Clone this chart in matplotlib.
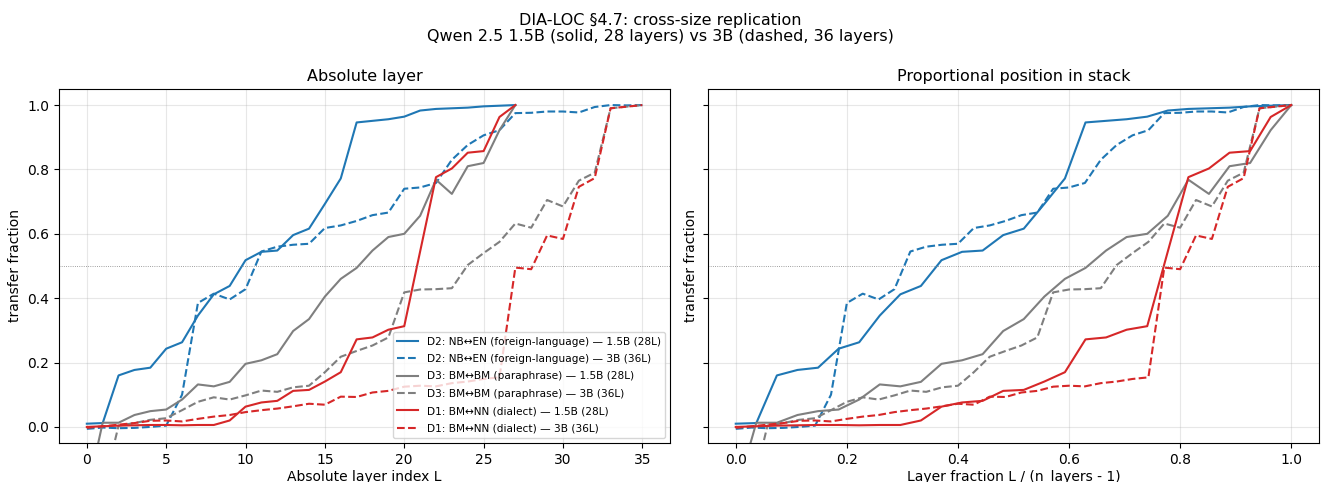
import matplotlib
matplotlib.use("Agg")
import matplotlib.pyplot as plt
import numpy as np

# Data: transfer fraction per layer
d2_15 = [0.01, 0.012, 0.16, 0.177, 0.184, 0.243, 0.263, 0.346, 0.412, 0.438, 0.518, 0.544, 0.548, 0.596,
         0.616, 0.693, 0.772, 0.946, 0.951, 0.956, 0.964, 0.983, 0.988, 0.990, 0.992, 0.996, 0.998, 1.0]
d2_3 = [-0.006, -0.002, -0.004, -0.003, 0.0, 0.004, 0.10, 0.385, 0.414, 0.396, 0.428, 0.545, 0.560, 0.566,
        0.569, 0.618, 0.626, 0.640, 0.658, 0.666, 0.740, 0.744, 0.758, 0.830, 0.876, 0.906, 0.922, 0.975,
        0.976, 0.980, 0.980, 0.977, 0.994, 1.0, 0.999, 1.0]
d3_15 = [-0.21, 0.013, 0.013, 0.037, 0.049, 0.054, 0.085, 0.132, 0.126, 0.14, 0.196, 0.207, 0.226, 0.298,
         0.335, 0.405, 0.46, 0.494, 0.548, 0.59, 0.6, 0.656, 0.768, 0.724, 0.81, 0.82, 0.922, 1.0]
d3_3 = [-0.25, -0.2, 0.004, 0.012, 0.022, 0.027, 0.052, 0.078, 0.092, 0.085, 0.098, 0.113, 0.109, 0.123,
        0.128, 0.17, 0.218, 0.236, 0.253, 0.278, 0.418, 0.427, 0.428, 0.431, 0.503, 0.54, 0.575, 0.632,
        0.619, 0.705, 0.685, 0.765, 0.79, 0.99, 0.995, 1.0]
d1_15 = [0.0, 0.002, 0.004, 0.005, 0.006, 0.006, 0.005, 0.006, 0.006, 0.02, 0.063, 0.076, 0.081, 0.112,
         0.115, 0.141, 0.17, 0.272, 0.278, 0.302, 0.313, 0.545, 0.776, 0.803, 0.852, 0.857, 0.963, 1.0]
d1_3 = [-0.003, 0.002, 0.007, 0.012, 0.019, 0.02, 0.017, 0.025, 0.032, 0.037, 0.046, 0.052, 0.057, 0.064,
        0.072, 0.069, 0.094, 0.093, 0.107, 0.112, 0.125, 0.128, 0.126, 0.136, 0.141, 0.149, 0.154, 0.495,
        0.49, 0.595, 0.584, 0.746, 0.773, 0.99, 0.995, 1.0]

n_small = 28
n_large = 36

series = [
    ("D2: NB\u2194EN (foreign-language) \u2014 1.5B (28L)", d2_15, n_small, "#1f77b4", "-"),
    ("D2: NB\u2194EN (foreign-language) \u2014 3B (36L)", d2_3, n_large, "#1f77b4", "--"),
    ("D3: BM\u2194BM (paraphrase) \u2014 1.5B (28L)", d3_15, n_small, "#7f7f7f", "-"),
    ("D3: BM\u2194BM (paraphrase) \u2014 3B (36L)", d3_3, n_large, "#7f7f7f", "--"),
    ("D1: BM\u2194NN (dialect) \u2014 1.5B (28L)", d1_15, n_small, "#d62728", "-"),
    ("D1: BM\u2194NN (dialect) \u2014 3B (36L)", d1_3, n_large, "#d62728", "--"),
]

plt.rcParams["xtick.labelsize"] = 10
plt.rcParams["ytick.labelsize"] = 10
plt.rcParams["axes.labelsize"] = 10
plt.rcParams["axes.titlesize"] = 11.5

fig, axes = plt.subplots(1, 2, figsize=(13.21, 4.82), dpi=100, sharey=True)
fig.subplots_adjust(left=0.0447, right=0.9985, top=0.8154, bottom=0.0809, wspace=0.062)

for label, vals, n, color, ls in series:
    x = np.arange(n)
    axes[0].plot(x, vals, color=color, ls=ls, lw=1.5, label=label)
    axes[1].plot(x / (n - 1), vals, color=color, ls=ls, lw=1.5, label=label)

for ax in axes:
    ax.axhline(0.5, color="gray", ls=":", lw=0.6)
    ax.grid(True, alpha=0.3)
    ax.set_ylim(-0.05, 1.05)

axes[0].set_title("Absolute layer")
axes[0].set_xlabel("Absolute layer index L", labelpad=2.5)
axes[0].set_ylabel("transfer fraction")
axes[0].legend(loc="lower right", fontsize=7.6, labelspacing=0.7)

axes[1].set_title("Proportional position in stack")
axes[1].set_xlabel("Layer fraction L / (n_layers - 1)", labelpad=2.5)
axes[1].set_ylabel("transfer fraction")
axes[1].tick_params(labelleft=False)

fig.suptitle("DIA-LOC \u00a74.7: cross-size replication\nQwen 2.5 1.5B (solid, 28 layers) vs 3B (dashed, 36 layers)",
             fontsize=11.5, y=0.974, linespacing=1.1)

fig.savefig("out.png", dpi=100)
